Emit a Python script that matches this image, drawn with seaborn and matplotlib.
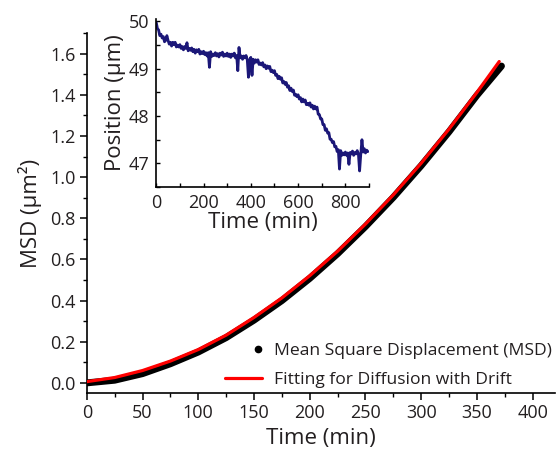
import matplotlib
matplotlib.use("Agg")
import matplotlib.pyplot as plt
from matplotlib.ticker import MultipleLocator, FormatStrFormatter
from matplotlib.lines import Line2D
from matplotlib.legend_handler import HandlerBase
import seaborn as sns
import pandas as pd

sns.set_theme(style="ticks")
plt.rcParams["font.family"] = ["Open Sans", "DejaVu Sans"]
TXT = "#231f20"

# ---- main panel: mean square displacement vs lag time ----
msd_time = [0, 25, 50, 75, 100, 125, 150, 175, 200, 225, 250, 275, 300, 325, 350, 372]
msd_value = [0.000, 0.013, 0.045, 0.093, 0.150, 0.220, 0.305, 0.400, 0.508, 0.628,
             0.760, 0.902, 1.056, 1.221, 1.398, 1.540]

fit_time = [0, 25, 50, 75, 100, 125, 150, 175, 200, 225, 250, 275, 300, 325, 350, 370]
fit_value = [0.006, 0.026, 0.060, 0.106, 0.162, 0.232, 0.318, 0.413, 0.521, 0.640,
             0.772, 0.914, 1.068, 1.234, 1.412, 1.562]

# ---- inset: particle position over the whole recording ----
pos_time = list(range(0, 900, 5))
pos_value = [
    49.98, 49.85, 49.82, 49.70, 49.73, 49.65, 49.68, 49.57, 49.60, 49.70,
    49.60, 49.52, 49.56, 49.48, 49.56, 49.51, 49.56, 49.46, 49.50, 49.46,
    49.51, 49.43, 49.47, 49.40, 49.47, 49.43, 49.55, 49.38, 49.43, 49.39,
    49.44, 49.36, 49.41, 49.33, 49.40, 49.36, 49.41, 49.31, 49.36, 49.32,
    49.37, 49.30, 49.34, 49.27, 49.34, 49.03, 49.36, 49.26, 49.31, 49.28,
    49.34, 49.27, 49.32, 49.25, 49.33, 49.29, 49.35, 49.26, 49.31, 49.27,
    49.33, 49.26, 49.31, 49.24, 49.31, 49.27, 49.33, 49.23, 49.28, 48.96,
    49.45, 49.23, 49.27, 49.20, 49.27, 49.23, 49.28, 49.19, 48.82, 49.19,
    49.24, 48.86, 49.20, 49.12, 49.19, 49.14, 49.19, 49.09, 49.12, 49.08,
    49.13, 49.04, 49.08, 49.00, 49.06, 49.01, 49.05, 48.94, 48.97, 48.92,
    48.96, 48.86, 48.88, 48.79, 48.84, 48.78, 48.81, 48.70, 48.73, 48.67,
    48.71, 48.61, 48.64, 48.54, 48.59, 48.52, 48.55, 48.44, 48.46, 48.41,
    48.45, 48.36, 48.39, 48.30, 48.36, 48.30, 48.34, 48.24, 48.27, 48.23,
    48.28, 48.19, 48.23, 48.15, 48.21, 48.15, 48.19, 48.04, 48.03, 47.94,
    47.94, 47.82, 47.82, 47.70, 47.73, 47.64, 47.65, 47.51, 47.51, 47.44,
    47.46, 47.35, 47.36, 47.25, 47.29, 46.88, 47.27, 47.17, 47.22, 47.18,
    47.24, 47.17, 47.22, 46.98, 47.23, 47.20, 47.26, 47.17, 47.23, 47.20,
    47.27, 47.20, 46.84, 47.19, 47.50, 47.24, 47.31, 47.22, 47.28, 47.25,
]

msd_df = pd.DataFrame({"time": msd_time, "msd": msd_value})
fit_df = pd.DataFrame({"time": fit_time, "msd": fit_value})
pos_df = pd.DataFrame({"time": pos_time, "position": pos_value})


class RightDotHandler(HandlerBase):
    """Legend handler drawing one dot at the right end of the handle box."""

    def create_artists(self, legend, orig_handle, xdescent, ydescent,
                       width, height, fontsize, trans):
        dot = Line2D([width - xdescent - 3], [height / 2.0 - ydescent],
                     ls="none", marker=orig_handle.get_marker(),
                     ms=orig_handle.get_markersize(),
                     color=orig_handle.get_color())
        dot.set_transform(trans)
        return [dot]


fig = plt.figure(figsize=(5.6, 4.54), dpi=100)
ax = fig.add_axes([0.155, 0.134, 0.836, 0.793])

sns.lineplot(data=msd_df, x="time", y="msd", ax=ax, color="black", lw=5.0,
             solid_capstyle="round", zorder=2)
sns.lineplot(data=fit_df, x="time", y="msd", ax=ax, color="#ff0000", lw=2.3,
             zorder=3)

ax.set_xlim(0, 420)
ax.set_ylim(-0.05, 1.70)
ax.xaxis.set_major_locator(MultipleLocator(50))
ax.xaxis.set_minor_locator(MultipleLocator(25))
ax.yaxis.set_major_locator(MultipleLocator(0.2))
ax.yaxis.set_minor_locator(MultipleLocator(0.1))
ax.yaxis.set_major_formatter(FormatStrFormatter("%.1f"))
sns.despine(ax=ax)
for s in ("left", "bottom"):
    ax.spines[s].set_linewidth(1.2)
    ax.spines[s].set_color("black")
ax.tick_params(which="major", direction="out", length=5, width=1.1,
               labelsize=13, colors="black", labelcolor=TXT, pad=3)
ax.tick_params(which="minor", direction="out", length=2.8, width=1.0, colors="black")
ax.set_xlabel("Time (min)", fontsize=16, color=TXT, labelpad=4)
ax.set_ylabel("MSD (µm²)", fontsize=16, color=TXT, labelpad=6)

msd_handle = Line2D([], [], ls="none", marker="o", ms=4.5, color="black")
fit_handle = Line2D([], [], color="#ff0000", lw=2.3)
ax.legend([msd_handle, fit_handle],
          ["Mean Square Displacement (MSD)", "Fitting for Diffusion with Drift"],
          handler_map={msd_handle: RightDotHandler()},
          loc="lower right", bbox_to_anchor=(1.015, -0.012), frameon=False,
          fontsize=12.6, handlelength=2.1, handletextpad=0.7, labelspacing=0.7,
          labelcolor=TXT, borderaxespad=0.15)

# ---- inset ----
ins = fig.add_axes([0.279, 0.588, 0.380, 0.370])
sns.lineplot(data=pos_df, x="time", y="position", ax=ins, color="#1b1778", lw=2.0)
ins.set_xlim(0, 900)
ins.set_ylim(46.5, 50.05)
ins.xaxis.set_major_locator(MultipleLocator(200))
ins.xaxis.set_minor_locator(MultipleLocator(100))
ins.yaxis.set_major_locator(MultipleLocator(1))
ins.yaxis.set_minor_locator(MultipleLocator(0.5))
sns.despine(ax=ins)
for s in ("left", "bottom"):
    ins.spines[s].set_linewidth(1.2)
    ins.spines[s].set_color("black")
ins.set_facecolor("none")
ins.tick_params(which="both", direction="in", length=2.8, width=1.0,
                labelsize=13, colors="black", labelcolor=TXT, pad=5)
ins.set_xlabel("Time (min)", fontsize=16, color=TXT, labelpad=0)
ins.set_ylabel("Position (µm)", fontsize=16, color=TXT, labelpad=2)

fig.savefig("out.png", dpi=100)
